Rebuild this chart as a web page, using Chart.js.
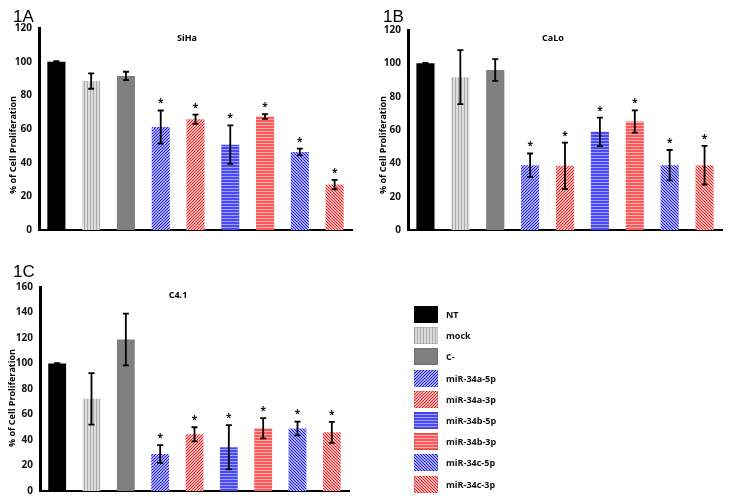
<!DOCTYPE html>
<html lang="en">
<head>
<meta charset="UTF-8">
<title>Cell Proliferation</title>
<script src="https://cdn.jsdelivr.net/npm/chart.js"></script>
<style>
  body { margin: 0; background: #fff; width: 731px; height: 502px; position: relative; overflow: hidden; font-family: "Open Sans", sans-serif; }
  .panel { position: absolute; }
  #legend { position: absolute; left: 414px; top: 304px; }
  .row { display: flex; align-items: center; height: 21.2px; }
  .row canvas { width: 24px; height: 17px; margin-right: 8px; }
  .row span { font-size: 9px; font-weight: bold; color: #111; }
</style>
</head>
<body>
<div class="panel" style="left:0;top:0"><canvas id="chartA" width="360" height="240"></canvas></div>
<div class="panel" style="left:365px;top:0"><canvas id="chartB" width="366" height="240"></canvas></div>
<div class="panel" style="left:0;top:255px"><canvas id="chartC" width="360" height="247"></canvas></div>
<div id="legend"></div>
<script>
// categories (treatments)
const categories = ['NT', 'mock', 'C-', 'miR-34a-5p', 'miR-34a-3p', 'miR-34b-5p', 'miR-34b-3p', 'miR-34c-5p', 'miR-34c-3p'];
// 1A SiHa
const sihaValues = [100, 88.5, 91.5, 61.2, 65.8, 50.7, 67.4, 46.3, 27];
const sihaErrors = [0.3, 4.6, 2.5, 9.8, 2.7, 11.4, 1.4, 2, 2.8];
// 1B CaLo
const caloValues = [100, 91.7, 96, 38.9, 38.5, 58.9, 65.1, 38.9, 38.9];
const caloErrors = [0.3, 16.2, 6.5, 7, 13.9, 8.5, 6.7, 9.1, 11.6];
// 1C C4.1
const c41Values = [100, 72.3, 118.8, 29, 44.5, 34.3, 49.2, 49, 46];
const c41Errors = [0.3, 20.2, 20.3, 7, 5.5, 17.4, 7.9, 5.4, 8.2];
// * marks
const significant = [false, false, false, true, true, true, true, true, true];

// pattern fills, pixel by pixel
function makePattern(kind, bg, fg) {
    const c = document.createElement('canvas');
    c.width = 6; c.height = 6;
    const g = c.getContext('2d');
    g.fillStyle = bg;
    g.fillRect(0, 0, 6, 6);
    g.fillStyle = fg;
    for (let x = 0; x < 6; x++) {
        for (let y = 0; y < 6; y++) {
            let on = false;
            if (kind === 'solid') on = true;
            if (kind === 'vert') on = x % 3 === 0;
            if (kind === 'horiz') on = y % 3 !== 2;
            if (kind === 'up') on = (x + y) % 3 === 0;
            if (kind === 'down') on = (x - y + 6) % 3 === 0;
            if (on) g.fillRect(x, y, 1, 1);
        }
    }
    return c;
}

const tiles = [
    makePattern('solid', '#000', '#000'),
    makePattern('vert', '#dcdcdc', '#ababab'),
    makePattern('solid', '#7f7f7f', '#7f7f7f'),
    makePattern('up', '#a8a8ff', '#2222d0'),
    makePattern('up', '#ffb0b0', '#e02c2c'),
    makePattern('horiz', '#a0a0ff', '#4a4af2'),
    makePattern('horiz', '#ffb0b0', '#ff5858'),
    makePattern('down', '#a8a8ff', '#2222d0'),
    makePattern('down', '#ffb0b0', '#e02c2c')
];
const tmpCtx = document.createElement('canvas').getContext('2d');
const fills = tiles.map(t => tmpCtx.createPattern(t, 'repeat'));

// error bars, stars and text
const decor = {
    id: 'decor',
    afterDatasetsDraw(chart, args, opts) {
        const ctx = chart.ctx;
        const y = chart.scales.y;
        const meta = chart.getDatasetMeta(0);
        const values = chart.data.datasets[0].data;
        ctx.save();
        ctx.strokeStyle = '#000';
        ctx.lineWidth = 1.8;
        meta.data.forEach((bar, i) => {
            const top = y.getPixelForValue(values[i] + opts.errors[i]);
            const bot = y.getPixelForValue(values[i] - opts.errors[i]);
            ctx.beginPath();
            ctx.moveTo(bar.x, top); ctx.lineTo(bar.x, bot);
            ctx.moveTo(bar.x - 3, top); ctx.lineTo(bar.x + 3, top);
            ctx.moveTo(bar.x - 3, bot); ctx.lineTo(bar.x + 3, bot);
            ctx.stroke();
            if (significant[i]) {
                ctx.fillStyle = '#111';
                ctx.font = 'bold 10px "Open Sans"';
                ctx.textAlign = 'center';
                ctx.textBaseline = 'middle';
                ctx.fillText('*', bar.x, top - 7);
            }
        });
        ctx.fillStyle = '#000';
        ctx.textAlign = 'left';
        ctx.textBaseline = 'alphabetic';
        ctx.font = '17px "Liberation Sans"';
        ctx.fillText(opts.label, opts.labelX, 22);
        ctx.textAlign = 'center';
        ctx.textBaseline = 'middle';
        ctx.font = 'bold 9px "Open Sans"';
        ctx.fillText(opts.title, opts.titleX, opts.titleY);
        ctx.translate(opts.axisX, opts.axisY);
        ctx.rotate(-Math.PI / 2);
        ctx.fillText('% of Cell Proliferation', 0, 0);
        ctx.restore();
    }
};

function drawPanel(id, values, errors, yMax, pad, yWidth, text) {
    return new Chart(document.getElementById(id), {
        type: 'bar',
        data: {
            labels: categories,
            datasets: [{
                data: values,
                backgroundColor: fills,
                borderWidth: 0,
                categoryPercentage: 1,
                barPercentage: 0.52
            }]
        },
        options: {
            responsive: false,
            animation: false,
            devicePixelRatio: 1,
            layout: { padding: pad },
            plugins: {
                legend: { display: false },
                tooltip: { enabled: false },
                decor: Object.assign({ errors }, text)
            },
            scales: {
                x: {
                    ticks: { display: false },
                    grid: { display: false, drawTicks: false },
                    border: { display: true, color: '#000', width: 2 },
                    afterFit: s => { s.height = 0; }
                },
                y: {
                    min: 0, max: yMax,
                    ticks: { stepSize: 20, padding: 7, color: '#111', font: { family: 'Open Sans', weight: 'bold', size: 10 } },
                    grid: { display: false, drawTicks: false },
                    border: { display: true, color: '#000', width: 3 },
                    afterFit: s => { s.width = yWidth; s.paddingTop = 0; s.paddingBottom = 0; }
                }
            }
        },
        plugins: [decor]
    });
}

drawPanel('chartA', sihaValues, sihaErrors, 120, { left: 0, right: 8, top: 28, bottom: 10 }, 39,
    { label: '1A', labelX: 13, title: 'SiHa', titleX: 187, titleY: 38, axisX: 13, axisY: 145 });
drawPanel('chartB', caloValues, caloErrors, 120, { left: 0, right: 9, top: 30, bottom: 10 }, 43,
    { label: '1B', labelX: 18, title: 'CaLo', titleX: 188, titleY: 38, axisX: 18, axisY: 145 });
drawPanel('chartC', c41Values, c41Errors, 160, { left: 0, right: 11, top: 32, bottom: 11 }, 40,
    { label: '1C', labelX: 13, title: 'C4.1', titleX: 178, titleY: 40, axisX: 12, axisY: 143 });

// legend
const legend = document.getElementById('legend');
categories.forEach((name, i) => {
    const row = document.createElement('div');
    row.className = 'row';
    const sw = document.createElement('canvas');
    sw.width = 24; sw.height = 17;
    const g = sw.getContext('2d');
    g.fillStyle = g.createPattern(tiles[i], 'repeat');
    g.fillRect(0, 0, 24, 17);
    g.strokeStyle = 'rgba(0,0,0,0.12)';
    g.strokeRect(0.5, 0.5, 23, 16);
    const label = document.createElement('span');
    label.textContent = name;
    row.appendChild(sw);
    row.appendChild(label);
    legend.appendChild(row);
});
</script>
</body>
</html>
